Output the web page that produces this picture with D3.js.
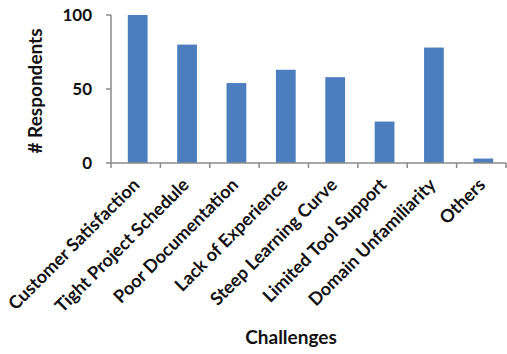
<!DOCTYPE html>
<html>
<head>
<meta charset="utf-8">
<script src="https://cdn.jsdelivr.net/npm/d3@7"></script>
<style>
  body { margin: 0; background: #fff; }
  text { font-family: Lato, "Open Sans", sans-serif; font-weight: bold; fill: #111; }
</style>
</head>
<body>
<svg id="chart"></svg>
<script>
var categories = ["Customer Satisfaction", "Tight Project Schedule", "Poor Documentation",
  "Lack of Experience", "Steep Learning Curve", "Limited Tool Support",
  "Domain Unfamiliarity", "Others"];
var respondents = [100, 80, 54, 63, 58, 28, 78, 3];
var yTicks = [0, 50, 100];

var w = 507, h = 354;
var svg = d3.select("#chart").attr("width", w).attr("height", h);

var x = d3.scaleBand().domain(categories).range([111, 506]).padding(0);
var y = d3.scaleLinear().domain([0, 100]).range([163, 15]);
var barW = x.step() * 0.4;
var axisColor = "#8a8a8a";

// bars
svg.selectAll("rect.bar")
  .data(categories)
  .enter().append("rect")
  .attr("class", "bar")
  .attr("x", function(d) { return x(d) + x.bandwidth() / 2 - barW / 2 + 2; })
  .attr("y", function(d, i) { return y(respondents[i]); })
  .attr("width", barW)
  .attr("height", function(d, i) { return y(0) - y(respondents[i]); })
  .attr("fill", "#4a7ebf");

// y axis line + ticks
svg.append("line")
  .attr("x1", 111).attr("x2", 111)
  .attr("y1", y(100)).attr("y2", y(0))
  .attr("stroke", axisColor).attr("stroke-width", 1.5);

svg.selectAll("line.ytick")
  .data(yTicks)
  .enter().append("line")
  .attr("x1", 106).attr("x2", 111)
  .attr("y1", function(d) { return y(d); })
  .attr("y2", function(d) { return y(d); })
  .attr("stroke", axisColor).attr("stroke-width", 1.5);

svg.selectAll("text.ylab")
  .data(yTicks)
  .enter().append("text")
  .attr("x", 92)
  .attr("y", function(d) { return y(d) + 6; })
  .attr("text-anchor", "end")
  .style("font-size", "17px")
  .text(function(d) { return d; });

// x axis line + ticks at category boundaries
svg.append("line")
  .attr("x1", 111).attr("x2", 506)
  .attr("y1", y(0)).attr("y2", y(0))
  .attr("stroke", axisColor).attr("stroke-width", 1.5);

var bounds = categories.map(function(d) { return x(d); }).concat([x.range()[1]]);
svg.selectAll("line.xtick")
  .data(bounds)
  .enter().append("line")
  .attr("x1", function(d) { return d; })
  .attr("x2", function(d) { return d; })
  .attr("y1", y(0)).attr("y2", y(0) + 5)
  .attr("stroke", axisColor).attr("stroke-width", 1.5);

// rotated category labels
svg.selectAll("text.xlab")
  .data(categories)
  .enter().append("text")
  .attr("text-anchor", "end")
  .attr("transform", function(d) {
    return "translate(" + (x(d) + x.bandwidth() / 2 + 5) + "," + (y(0) + 23) + ") rotate(-45)";
  })
  .style("font-size", "18px")
  .text(function(d) { return d; });

// axis titles
svg.append("text")
  .attr("transform", "translate(42,91) rotate(-90)")
  .attr("text-anchor", "middle")
  .style("font-size", "19px")
  .text("# Respondents");

svg.append("text")
  .attr("x", 291).attr("y", 344)
  .attr("text-anchor", "middle")
  .style("font-size", "19px")
  .text("Challenges");
</script>
</body>
</html>
